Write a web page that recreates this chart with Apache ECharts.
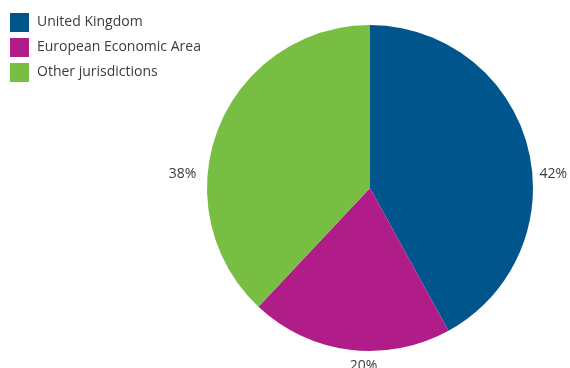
<!DOCTYPE html>
<html><head><meta charset="utf-8">
<script src="https://cdn.jsdelivr.net/npm/echarts@6/dist/echarts.min.js"></script>
<style>html,body{margin:0;padding:0;background:#fff}#c{width:570px;height:368px}</style>
</head><body><div id="c"></div>
<script>
const categories = ['United Kingdom', 'European Economic Area', 'Other jurisdictions'];
const values = [42, 20, 38];
const colors = ['#00558C', '#B01C88', '#77BE43'];

const CX = 370, CY = 188, R = 163;
// label placement relative to pie centre (in units of radius)
const labelOffsets = [[1.125, -0.086], [-0.04, 1.09], [-1.15, -0.086]];

const chart = echarts.init(document.getElementById('c'));
chart.setOption({
  animation: false,
  color: colors,
  legend: {
    orient: 'vertical', left: 10, top: 13, padding: 0,
    itemWidth: 19, itemHeight: 19, itemGap: 6,
    icon: 'rect',
    textStyle: { fontFamily: 'Open Sans', fontSize: 14, color: '#3c3c3c', padding: [0, 0, 0, 3] },
    data: categories
  },
  series: [{
    type: 'pie',
    center: [CX, CY], radius: R,
    startAngle: 90, clockwise: true,
    data: categories.map((n, i) => ({ name: n, value: values[i] })),
    label: {
      show: true, position: 'outside', overflow: 'none',
      formatter: p => p.value + '%',
      fontFamily: 'Open Sans', fontSize: 14, color: '#3c3c3c'
    },
    labelLine: { show: false },
    labelLayout: p => ({
      x: CX + labelOffsets[p.dataIndex][0] * R,
      y: CY + labelOffsets[p.dataIndex][1] * R,
      align: 'center', verticalAlign: 'middle'
    }),
    emphasis: { disabled: true }
  }]
});
</script></body></html>
